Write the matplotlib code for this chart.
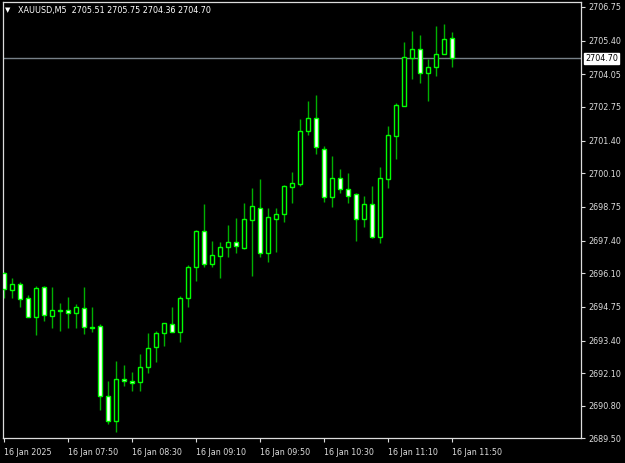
import matplotlib
matplotlib.use('Agg')
import matplotlib.pyplot as plt
import numpy as np

# XAUUSD M5, 16 Jan 2025 07:10 - 11:50
opens = [2696.12, 2695.43, 2695.67, 2695.10, 2694.36, 2695.56, 2694.39, 2694.63, 2694.62, 2694.51,
         2694.72, 2693.94, 2693.99, 2691.20, 2690.20, 2691.87, 2691.80, 2691.74, 2692.34, 2693.14,
         2693.70, 2694.06, 2693.74, 2695.12, 2696.34, 2697.79, 2696.47, 2696.78, 2697.14, 2697.35,
         2697.12, 2698.23, 2698.72, 2696.90, 2698.28, 2698.46, 2699.56, 2699.67, 2701.78, 2702.30,
         2701.07, 2699.16, 2699.92, 2699.48, 2699.26, 2698.26, 2698.86, 2697.54, 2699.87, 2701.60,
         2702.80, 2704.70, 2705.07, 2704.10, 2704.36, 2704.87, 2705.51]
highs = [2696.15, 2695.92, 2695.76, 2695.23, 2695.60, 2695.60, 2695.56, 2694.90, 2695.14, 2694.86,
         2695.54, 2694.74, 2694.07, 2691.80, 2692.59, 2692.43, 2692.16, 2692.87, 2693.72, 2693.79,
         2694.12, 2694.74, 2695.20, 2696.43, 2697.83, 2698.87, 2697.39, 2697.36, 2698.03, 2698.30,
         2698.90, 2699.50, 2699.86, 2698.70, 2698.70, 2699.63, 2700.16, 2702.26, 2702.99, 2703.23,
         2701.19, 2700.79, 2700.26, 2700.12, 2699.30, 2699.19, 2699.59, 2700.36, 2701.99, 2702.90,
         2705.36, 2705.79, 2705.63, 2704.66, 2705.99, 2706.07, 2705.75]
lows = [2695.11, 2695.10, 2694.74, 2694.34, 2693.63, 2694.19, 2693.90, 2693.80, 2693.92, 2693.92,
        2693.67, 2693.76, 2690.63, 2690.07, 2689.76, 2691.59, 2691.40, 2691.40, 2692.10, 2692.56,
        2693.20, 2693.74, 2693.36, 2694.76, 2695.79, 2696.34, 2696.34, 2695.90, 2696.76, 2696.90,
        2697.07, 2696.00, 2696.76, 2696.56, 2696.96, 2698.16, 2698.92, 2699.60, 2701.63, 2700.86,
        2698.96, 2698.74, 2699.32, 2698.90, 2697.40, 2697.96, 2697.50, 2697.32, 2699.50, 2700.66,
        2702.80, 2703.86, 2703.70, 2703.00, 2703.99, 2704.87, 2704.36]
closes = [2695.46, 2695.67, 2695.07, 2694.34, 2695.52, 2694.43, 2694.62, 2694.60, 2694.51, 2694.74,
          2693.94, 2693.91, 2691.19, 2690.20, 2691.87, 2691.78, 2691.71, 2692.34, 2693.10, 2693.70,
          2694.10, 2693.74, 2695.12, 2696.36, 2697.79, 2696.47, 2696.82, 2697.15, 2697.35, 2697.18,
          2698.26, 2698.79, 2696.90, 2698.34, 2698.46, 2699.59, 2699.70, 2701.80, 2702.30, 2701.14,
          2699.16, 2699.92, 2699.47, 2699.20, 2698.26, 2698.86, 2697.54, 2699.90, 2701.63, 2702.83,
          2704.76, 2705.06, 2704.10, 2704.36, 2704.87, 2705.47, 2704.70]

time_labels = ['16 Jan 2025', '16 Jan 07:50', '16 Jan 08:30', '16 Jan 09:10',
               '16 Jan 09:50', '16 Jan 10:30', '16 Jan 11:10', '16 Jan 11:50']
time_ticks = [0, 8, 16, 24, 32, 40, 48, 56]
price_ticks = [2706.75, 2705.40, 2704.05, 2702.75, 2701.40, 2700.10, 2698.75,
               2697.40, 2696.10, 2694.75, 2693.40, 2692.10, 2690.80, 2689.50]
last_price = 2704.70
header = 'XAUUSD,M5  2705.51 2705.75 2704.36 2704.70'

plt.rcParams['font.family'] = ['DejaVu Sans']
fg = '#dcdcdc'

fig = plt.figure(figsize=(6.25, 4.63), dpi=100, facecolor='black')
ax = fig.add_axes([3 / 625, 25 / 463, 578 / 625, 436 / 463], facecolor='black')

o = np.array(opens)
h = np.array(highs)
l = np.array(lows)
c = np.array(closes)
x = np.arange(len(o))

# wicks
ax.vlines(x, l, h, color='#00b000', lw=1, zorder=2)
# bodies: bull hollow (black), bear white
fill = ['black' if cc > oo else 'white' for oo, cc in zip(o, c)]
ax.bar(x, np.abs(c - o), bottom=np.minimum(o, c), width=0.5,
       color=fill, edgecolor='#00ff00', lw=1, zorder=3)

# current price line
ax.axhline(last_price, color='#778088', lw=1, zorder=1)

ax.set_xlim(-0.1, 72.15)
ax.set_ylim(2689.50, 2706.95)

ax.set_xticks(time_ticks)
ax.set_xticklabels(time_labels, ha='left')
ax.yaxis.tick_right()
ax.set_yticks(price_ticks)
ax.set_yticklabels(['%.2f' % p for p in price_ticks])
ax.tick_params(axis='both', colors=fg, labelsize=5.8, length=3, width=0.8)
ax.tick_params(axis='x', pad=4)
ax.tick_params(axis='y', pad=2)
for s in ax.spines.values():
    s.set_color(fg)
    s.set_linewidth(0.9)

# price label on the right scale
ax.annotate('%.2f' % last_price, xy=(1.0, last_price), xycoords=('axes fraction', 'data'),
            xytext=(3, 0), textcoords='offset points', va='center', ha='left',
            fontsize=5.8, color='black',
            bbox=dict(boxstyle='square,pad=0.15', fc='white', ec='white'))

fig.text(5 / 625, 1 - 10 / 463, '\u25bc', color='white', fontsize=5, va='center', ha='left')
fig.text(18 / 625, 1 - 10 / 463, header, color='white', fontsize=5.8, va='center', ha='left')

fig.savefig('out.png', dpi=100, facecolor='black')
